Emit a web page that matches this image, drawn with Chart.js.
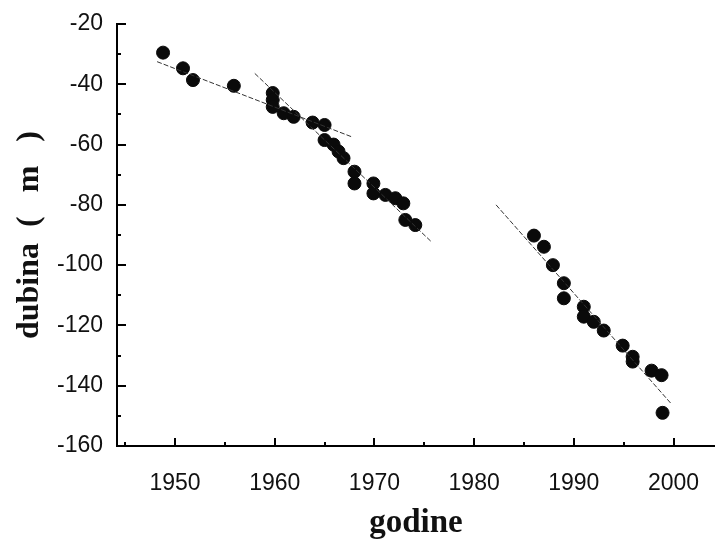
<!DOCTYPE html>
<html>
<head>
<meta charset="utf-8">
<script src="https://cdn.jsdelivr.net/npm/chart.js@4/dist/chart.umd.min.js"></script>
<style>
  body { margin: 0; background: #fff; }
  #wrap { width: 715px; height: 543px; }
</style>
</head>
<body>
<div id="wrap"><canvas id="grafica" width="715" height="543"></canvas></div>
<script>
// izmjerene tocke (godina, dubina u m)
const godine = [1948.8, 1950.8, 1951.8, 1955.9, 1959.8, 1959.8, 1959.8, 1960.9, 1961.9, 1963.8,
  1965.0, 1965.0, 1965.9, 1966.4, 1966.9, 1968.0, 1968.0, 1969.9, 1969.9, 1971.1, 1972.1, 1972.9,
  1973.1, 1974.1,
  1986.0, 1987.0, 1987.9, 1989.0, 1989.0, 1991.0, 1991.0, 1992.0, 1993.0, 1994.9, 1995.9, 1995.9,
  1997.8, 1998.8, 1998.9];
const dubine = [-29.5, -34.7, -38.6, -40.5, -42.9, -45.2, -47.5, -49.6, -50.8, -52.7,
  -53.5, -58.5, -60.0, -62.3, -64.5, -69.0, -72.9, -72.9, -76.2, -76.7, -77.8, -79.5,
  -85.0, -86.7,
  -90.2, -93.9, -100.0, -106.0, -111.0, -113.8, -117.1, -118.8, -121.7, -126.7, -130.4, -132.0,
  -135.0, -136.5, -149.0];

// trend linije (pocetak i kraj)
const trend1X = [1948.2, 1967.7];
const trend1Y = [-32.5, -57.4];
const trend2X = [1958.0, 1975.7];
const trend2Y = [-36.4, -92.2];
const trend3X = [1982.2, 1999.8];
const trend3Y = [-80.0, -146.1];

// osi
const xTickovi = [1950, 1960, 1970, 1980, 1990, 2000];
const xMali = [1945, 1955, 1965, 1975, 1985, 1995];
const yTickovi = [-160, -140, -120, -100, -80, -60, -40, -20];
const yMali = [-150, -130, -110, -90, -70, -50, -30];

const tocke = godine.map((g, i) => ({ x: g, y: dubine[i] }));
const linija = (xs, ys) => xs.map((x, i) => ({ x: x, y: ys[i] }));

const trendStil = {
  type: 'line',
  borderColor: '#333',
  borderWidth: 1,
  borderDash: [5, 2],
  pointRadius: 0,
  fill: false
};

// unutarnji tickovi na osima
const unutarnjiTickovi = {
  id: 'unutarnjiTickovi',
  afterDraw(chart) {
    const ctx = chart.ctx;
    const xs = chart.scales.x;
    const ys = chart.scales.y;
    const dno = chart.chartArea.bottom;
    const lijevo = chart.chartArea.left;
    ctx.save();
    ctx.strokeStyle = '#000';
    ctx.lineWidth = 2;
    ctx.beginPath();
    xTickovi.forEach(v => {
      const p = Math.round(xs.getPixelForValue(v));
      ctx.moveTo(p, dno); ctx.lineTo(p, dno - 8);
    });
    xMali.forEach(v => {
      const p = Math.round(xs.getPixelForValue(v));
      ctx.moveTo(p, dno); ctx.lineTo(p, dno - 4);
    });
    yTickovi.forEach(v => {
      const p = Math.round(ys.getPixelForValue(v));
      ctx.moveTo(lijevo, p); ctx.lineTo(lijevo + 9, p);
    });
    yMali.forEach(v => {
      const p = Math.round(ys.getPixelForValue(v));
      ctx.moveTo(lijevo, p); ctx.lineTo(lijevo + 4, p);
    });
    ctx.stroke();
    ctx.restore();
  }
};

new Chart(document.getElementById('grafica'), {
  type: 'scatter',
  data: {
    datasets: [
      Object.assign({ data: linija(trend1X, trend1Y) }, trendStil),
      Object.assign({ data: linija(trend2X, trend2Y) }, trendStil),
      Object.assign({ data: linija(trend3X, trend3Y) }, trendStil),
      {
        data: tocke,
        backgroundColor: '#0a0a0a',
        borderColor: '#0a0a0a',
        pointRadius: 6.5,
        pointHoverRadius: 6.5
      }
    ]
  },
  options: {
    responsive: false,
    animation: false,
    layout: { autoPadding: false, padding: { top: 24, left: 0, right: 0, bottom: 0 } },
    plugins: { legend: { display: false }, tooltip: { enabled: false } },
    scales: {
      x: {
        type: 'linear',
        min: 1944.18,
        max: 2004.16,
        afterBuildTicks: s => { s.ticks = xTickovi.map(v => ({ value: v })); },
        afterFit: s => { s.height = 97; s.paddingLeft = 0; s.paddingRight = 0; },
        grid: { drawOnChartArea: false, drawTicks: true, tickLength: 24, color: 'rgba(0,0,0,0)' },
        border: { display: true, color: '#000', width: 2 },
        ticks: {
          padding: 0,
          color: '#111',
          font: { family: 'Liberation Sans', size: 23 },
          maxRotation: 0,
          callback: v => String(v)
        },
        title: {
          display: true,
          text: 'godine',
          color: '#111',
          padding: { top: 0, bottom: 0 },
          font: { family: 'Liberation Serif', size: 33, weight: 'bold' }
        }
      },
      y: {
        type: 'linear',
        min: -160,
        max: -20,
        afterBuildTicks: s => { s.ticks = yTickovi.map(v => ({ value: v })); },
        afterFit: s => { s.width = 117; },
        grid: { drawOnChartArea: false, drawTicks: true, tickLength: 14, color: 'rgba(0,0,0,0)' },
        border: { display: true, color: '#000', width: 2 },
        ticks: {
          padding: 0,
          color: '#111',
          font: { family: 'Liberation Sans', size: 23 },
          callback: v => String(v)
        },
        title: {
          display: true,
          text: 'dubina  (   m   )',
          color: '#111',
          padding: { top: 11, bottom: 0 },
          font: { family: 'Liberation Serif', size: 32, weight: 'bold' }
        }
      }
    }
  },
  plugins: [unutarnjiTickovi]
});
</script>
</body>
</html>
